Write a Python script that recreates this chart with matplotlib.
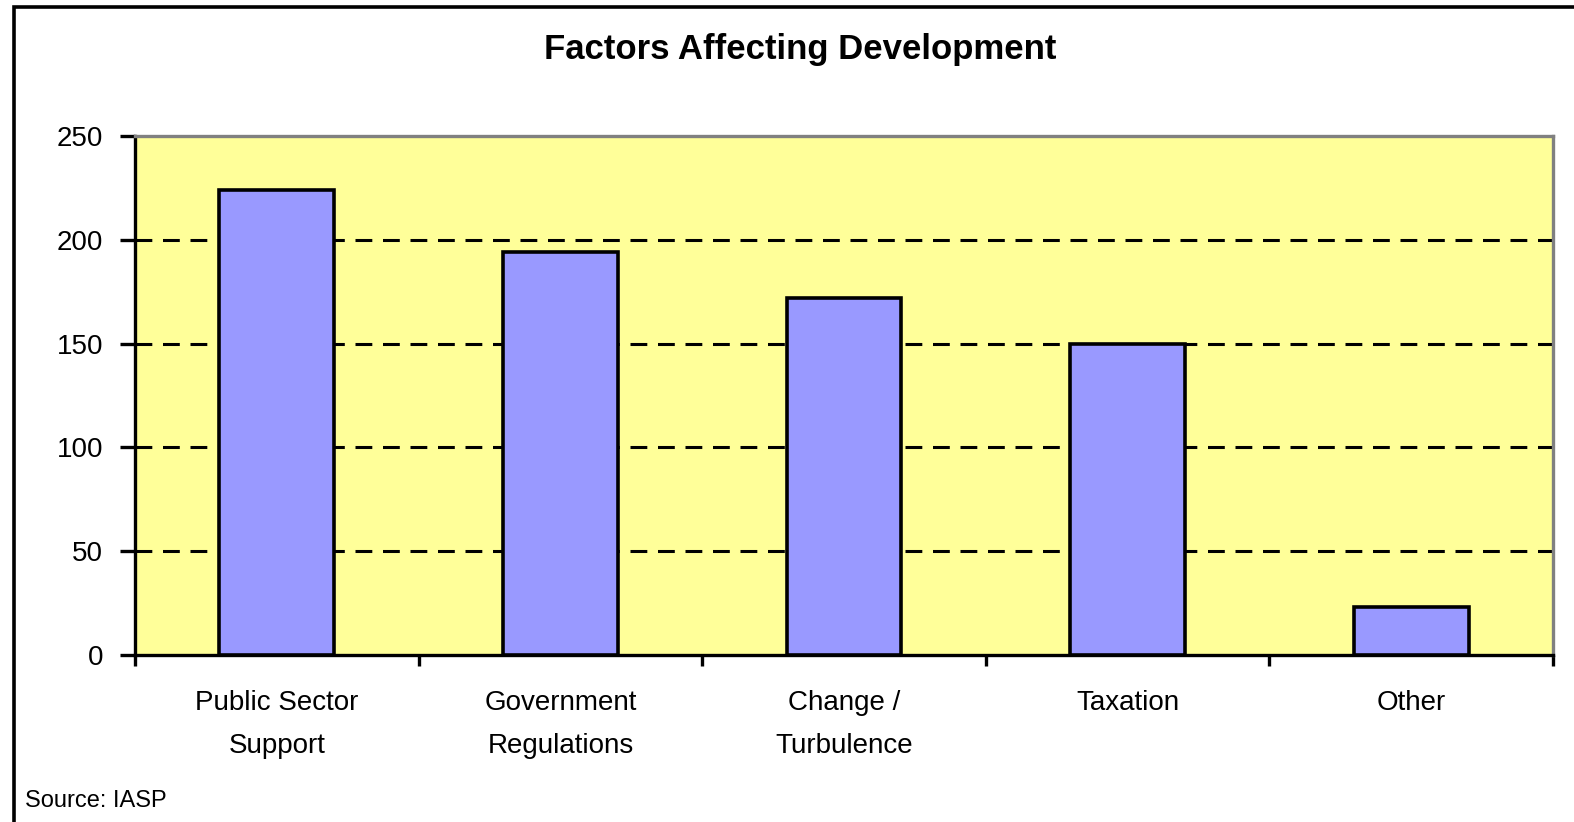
import matplotlib
matplotlib.use('Agg')
import matplotlib.pyplot as plt
from matplotlib.patches import Rectangle

plt.rcParams['font.family'] = ['Liberation Sans', 'DejaVu Sans']

categories = ['Public Sector\nSupport', 'Government\nRegulations', 'Change /\nTurbulence', 'Taxation', 'Other']
counts     = [224, 194, 172, 150, 23]
yticks     = [0, 50, 100, 150, 200, 250]

W, H = 1574, 822
fig = plt.figure(figsize=(W / 100, H / 100), dpi=100)
ax = fig.add_axes([135 / W, 1 - 655 / H, (1553 - 135) / W, (655 - 136) / H])
ax.set_facecolor('#FFFF99')

x = list(range(len(categories)))
ax.bar(x, counts, width=0.405, color='#9999FF', edgecolor='black', linewidth=2.6, zorder=3)

ax.set_xlim(-0.5, len(categories) - 0.5)
ax.set_ylim(0, 250)

# category boundaries get the ticks, centres get the labels
ax.set_xticks([i - 0.5 for i in range(len(categories) + 1)])
ax.set_xticklabels([])
ax.set_xticks(x, minor=True)
ax.set_xticklabels(categories, minor=True, fontsize=20, linespacing=1.85)
ax.tick_params(axis='x', which='major', direction='out', length=8, width=2.4, color='black')
ax.tick_params(axis='x', which='minor', length=0, pad=25)

ax.set_yticks(yticks)
ax.set_yticklabels([str(v) for v in yticks], fontsize=20)
ax.tick_params(axis='y', direction='out', length=11, width=2.4, pad=12)

for v in yticks[1:-1]:
    ax.axhline(v, color='black', linewidth=2.2, linestyle=(0, (5.5, 3.5)), zorder=1)

for side in ['left', 'bottom']:
    ax.spines[side].set_color('black')
    ax.spines[side].set_linewidth(2.4)
for side in ['top', 'right']:
    ax.spines[side].set_color('#808080')
    ax.spines[side].set_linewidth(2.4)

fig.text(800 / W, 1 - 50 / H, 'Factors Affecting Development', ha='center', va='center',
         fontsize=25, fontweight='bold')
fig.text(25 / W, 1 - 801 / H, 'Source: IASP', ha='left', va='center', fontsize=17)

# outer chart frame
fig.add_artist(Rectangle((13.5 / W, -0.1), 1.2, 1.1 - 7.5 / H, transform=fig.transFigure,
                         fill=False, edgecolor='black', linewidth=2.6, clip_on=False))

plt.savefig('out.png', dpi=100)
